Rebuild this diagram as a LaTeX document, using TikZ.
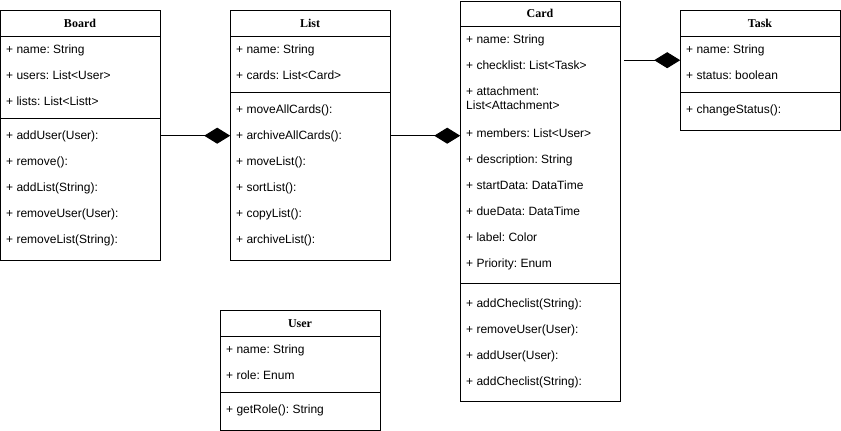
\documentclass[tikz,border=0pt]{standalone}
\usepackage{fontspec}
\setmainfont{Liberation Sans}
\newfontfamily\titlefont{Liberation Serif}
\usetikzlibrary{arrows.meta}
\frenchspacing
\tikzset{
 box/.style={draw=black,line width=1pt,fill=white,anchor=north west,inner sep=0pt,minimum width=160pt},
 txt/.style={anchor=base west,inner sep=0pt,font=\fontsize{12}{14}\selectfont\frenchspacing},
 ttl/.style={anchor=base,inner sep=0pt,font=\fontsize{12}{14}\selectfont\titlefont\bfseries},
 sepline/.style={line width=1pt},
 comp/.style={line width=1pt,-{Diamond[length=26pt,width=16pt,fill=black]}},
}
\begin{document}
\begin{tikzpicture}[x=1pt,y=-1pt]
\useasboundingbox (0,0) rectangle (841,431);
% Board
\node[box,minimum height=250pt] (board) at (0.2,10.2) {};
\draw[sepline] ([yshift=-26pt]board.north west) -- ([yshift=-26pt]board.north east);
\draw[sepline] ([yshift=-108pt]board.north west) -- ([yshift=-108pt]board.north east);
\node[ttl] (board-t) at (80,27.5) {Board};
\foreach \t [count=\i from 0] in {+ name: String, + users: List<User>, + lists: List<Listt>}
  \node[txt] (board-a\i) at (6,53.5+26*\i) {\t};
\foreach \t [count=\i from 0] in {+ addUser(User):, + remove():, + addList(String):, + removeUser(User):, + removeList(String):}
  \node[txt] (board-m\i) at (6,139.5+26*\i) {\t};
% List
\node[box,minimum height=250pt] (list) at (230.2,10.2) {};
\draw[sepline] ([yshift=-26pt]list.north west) -- ([yshift=-26pt]list.north east);
\draw[sepline] ([yshift=-82pt]list.north west) -- ([yshift=-82pt]list.north east);
\node[ttl] (list-t) at (310,27.5) {List};
\foreach \t [count=\i from 0] in {+ name: String, + cards: List<Card>}
  \node[txt] (list-a\i) at (236,53.5+26*\i) {\t};
\foreach \t [count=\i from 0] in {+ moveAllCards():, + archiveAllCards():, + moveList():, + sortList():, + copyList():, + archiveList():}
  \node[txt] (list-m\i) at (236,113.5+26*\i) {\t};
% Card
\node[box,minimum height=400pt] (card) at (460.2,0.5) {};
\draw[sepline] ([yshift=-26pt]card.north west) -- ([yshift=-26pt]card.north east);
\draw[sepline] ([yshift=-283pt]card.north west) -- ([yshift=-283pt]card.north east);
\node[ttl] (card-t) at (540,17.5) {Card};
\node[txt] (card-a0) at (466,43.5) {+ name: String};
\node[txt] (card-a1) at (466,69.5) {+ checklist: List<Task>};
\node[txt] (card-a2) at (466,95.5) {+ attachment:};
\node[txt] (card-a2b) at (466,109.5) {List<Attachment>};
\foreach \t [count=\i from 0] in {+ members: List<User>, + description: String, + startData: DataTime, + dueData: DataTime, + label: Color, + Priority: Enum}
  \node[txt] (card-b\i) at (466,137.5+26*\i) {\t};
\foreach \t [count=\i from 0] in {+ addCheclist(String):, + removeUser(User):, + addUser(User):, + addCheclist(String):}
  \node[txt] (card-m\i) at (466,307.5+26*\i) {\t};
% Task
\node[box,minimum height=120pt] (task) at (680.2,10.2) {};
\draw[sepline] ([yshift=-26pt]task.north west) -- ([yshift=-26pt]task.north east);
\draw[sepline] ([yshift=-82pt]task.north west) -- ([yshift=-82pt]task.north east);
\node[ttl] (task-t) at (760,27.5) {Task};
\node[txt] (task-a0) at (686,53.5) {+ name: String};
\node[txt] (task-a1) at (686,79.5) {+ status: boolean};
\node[txt] (task-m0) at (686,113.5) {+ changeStatus():};
% User
\node[box,minimum height=120pt] (user) at (220.2,310.2) {};
\draw[sepline] ([yshift=-26pt]user.north west) -- ([yshift=-26pt]user.north east);
\draw[sepline] ([yshift=-82pt]user.north west) -- ([yshift=-82pt]user.north east);
\node[ttl] (user-t) at (300,327.5) {User};
\node[txt] (user-a0) at (226,353.5) {+ name: String};
\node[txt] (user-a1) at (226,379.5) {+ role: Enum};
\node[txt] (user-m0) at (226,413.5) {+ getRole(): String};
% Connectors
\draw[comp] (board.east) -- (list.west);
\draw[comp] (list.east) -- (list.east -| card.west);
\coordinate (ct) at (624.2,60.2);
\draw[comp] (ct) -- (ct -| task.west);
\end{tikzpicture}
\end{document}
